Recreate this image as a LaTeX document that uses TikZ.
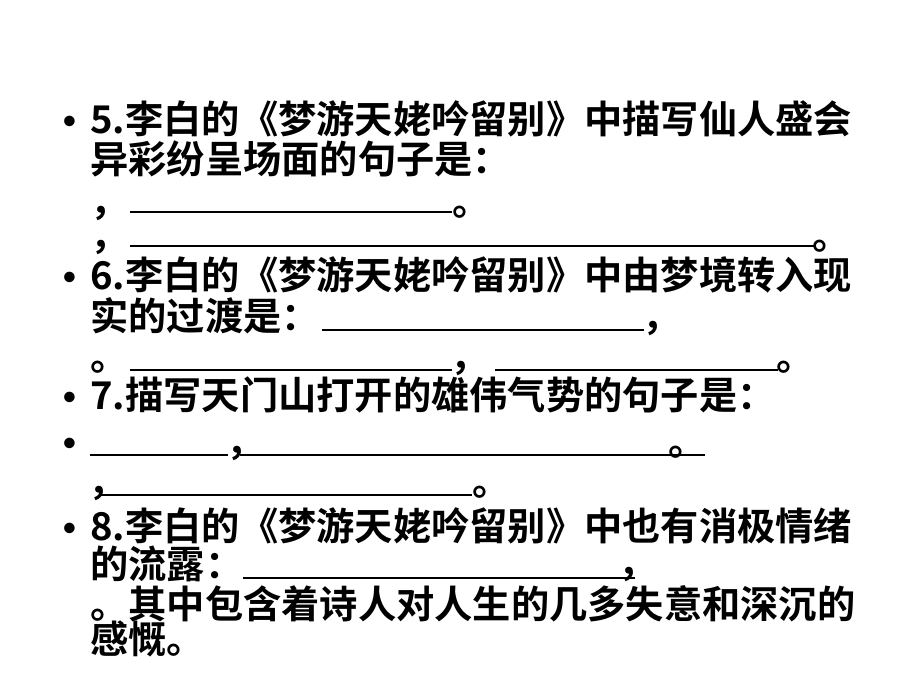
\documentclass[tikz,border=0pt]{standalone}
\usepackage{fontspec}
\setmainfont{Liberation Sans}
\newfontfamily\cjk{Noto Sans CJK SC}[BoldFont={Noto Sans CJK SC Bold}]
\begin{document}
\begin{tikzpicture}[x=0.025cm,y=-0.025cm,
  txt/.style={anchor=base west,inner sep=0pt,font=\fontsize{27.2}{30}\selectfont\cjk\bfseries},
  blt/.style={anchor=base,inner sep=0pt,font=\fontsize{26}{28}\selectfont\bfseries},
  blank/.style={line width=1.4pt}]
\useasboundingbox[fill=white] (0,0) rectangle (920,690);

\node[blt] (b1) at (70,133) {•};
\node[txt] (l1) at (90,133) {5.李白的《梦游天姥吟留别》中描写仙人盛会};
\node[txt] (l2) at (90,173) {异彩纷呈场面的句子是：};
\node[txt] (l3) at (90,215) {，};
\coordinate (u3a) at (130,212); \coordinate (u3b) at (452,212);
\draw[blank] (u3a) -- (u3b);
\node[txt] (e3) at (452,215) {。};
\node[txt] (l4) at (90,249) {，};
\coordinate (u4a) at (130,246); \coordinate (u4b) at (815,246);
\draw[blank] (u4a) -- (u4b);
\node[txt] (e4) at (812,249) {。};

\node[blt] (b2) at (70,289) {•};
\node[txt] (l5) at (90,289) {6.李白的《梦游天姥吟留别》中由梦境转入现};
\node[txt] (l6) at (90,330) {实的过渡是：};
\coordinate (u6a) at (322,330); \coordinate (u6b) at (644,330);
\draw[blank] (u6a) -- (u6b);
\node[txt] (e6) at (642,330) {，};
\node[txt] (l7) at (90,370) {。};
\coordinate (u7a) at (130,370); \coordinate (u7b) at (452,370);
\draw[blank] (u7a) -- (u7b);
\node[txt] (m7) at (450,370) {，};
\coordinate (u7c) at (495,370); \coordinate (u7d) at (778,370);
\draw[blank] (u7c) -- (u7d);
\node[txt] (e7) at (776,370) {。};

\node[blt] (b3) at (70,409) {•};
\node[txt] (l8) at (90,409) {7.描写天门山打开的雄伟气势的句子是：};
\node[blt] (b4) at (70,455) {•};
\coordinate (u9a) at (90,455); \coordinate (u9b) at (228,455);
\draw[blank] (u9a) -- (u9b);
\node[txt] (m9) at (226,455) {，};
\coordinate (u9c) at (240,455); \coordinate (u9d) at (705,455);
\draw[blank] (u9c) -- (u9d);
\node[txt] (e9) at (668,455) {。};
\node[txt] (l10) at (88,495) {，};
\coordinate (u10a) at (100,495); \coordinate (u10b) at (472,495);
\draw[blank] (u10a) -- (u10b);
\node[txt] (e10) at (472,495) {。};

\node[blt] (b5) at (70,540) {•};
\node[txt] (l11) at (90,540) {8.李白的《梦游天姥吟留别》中也有消极情绪};
\node[txt] (l12) at (90,578) {的流露：};
\coordinate (u12a) at (243,578); \coordinate (u12b) at (635,578);
\draw[blank] (u12a) -- (u12b);
\node[txt] (e12) at (618,576) {，};
\node[txt] (l13) at (90,618) {。其中包含着诗人对人生的几多失意和深沉的};
\node[txt] (l14) at (90,653) {感慨。};
\end{tikzpicture}
\end{document}
